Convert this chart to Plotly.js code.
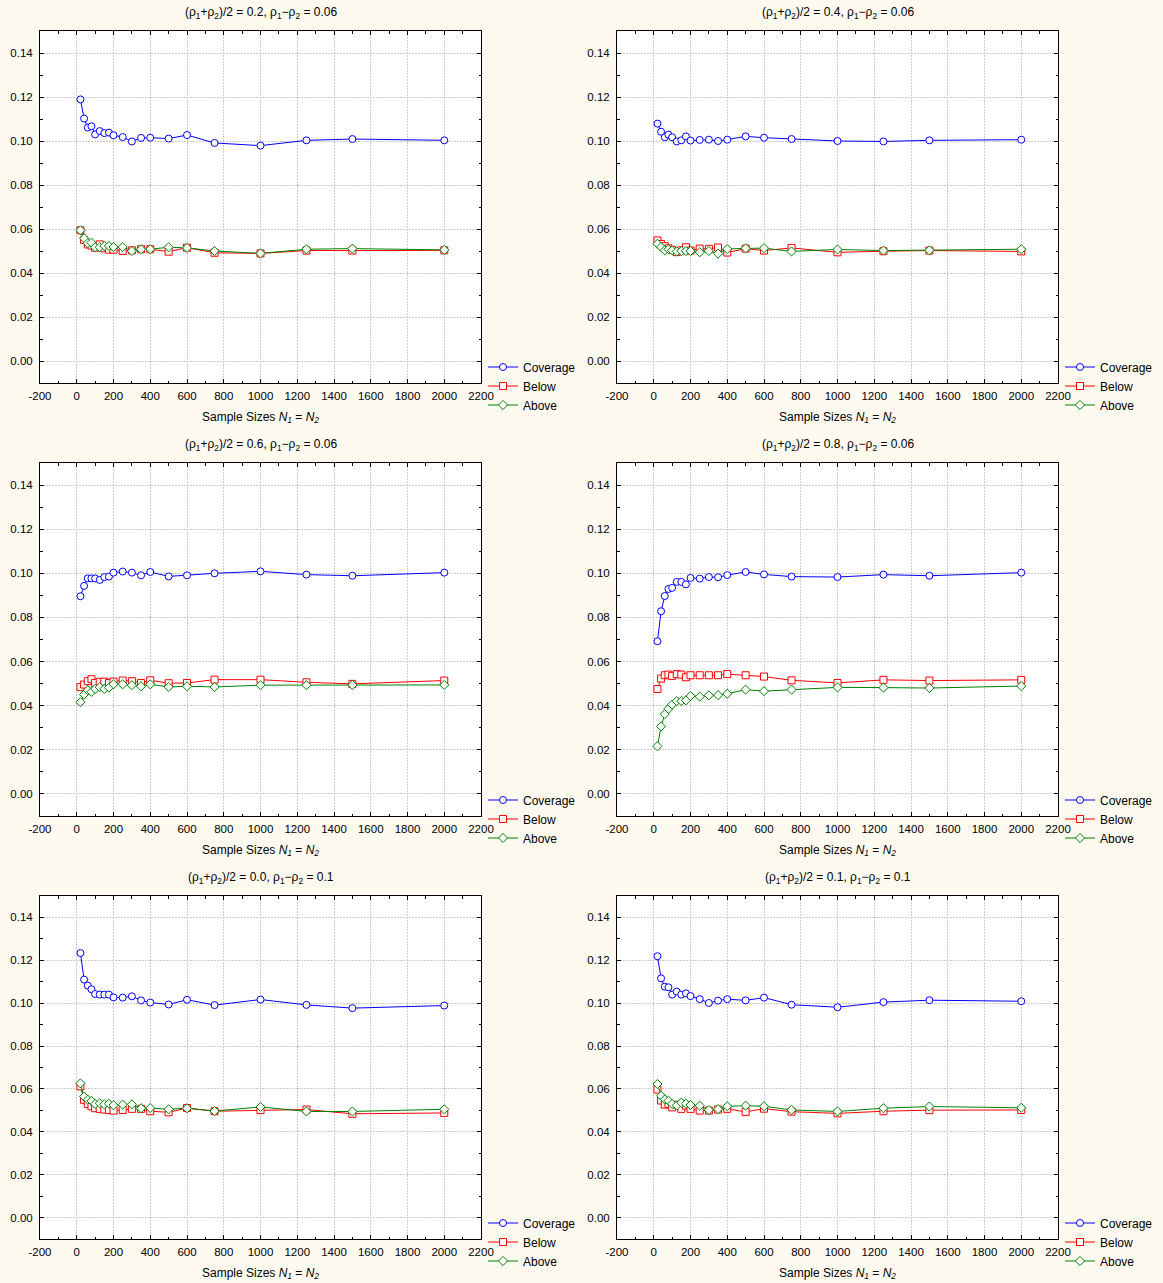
<!DOCTYPE html>
<html><head><meta charset="utf-8">
<script src="https://cdn.plot.ly/plotly-3.0.1.min.js"></script>
<style>html,body{margin:0;padding:0;background:#FEFAF0;} #chart{width:1163px;height:1283px;}</style>
</head><body><div id="chart"></div>
<script>
// ---------- data ----------
const sampleSizes = [20, 40, 60, 80, 100, 125, 150, 175, 200, 250, 300, 350, 400, 500, 600, 750, 1000, 1250, 1500, 2000];
const seriesNames = ['Coverage', 'Below', 'Above'];
const meanRho = ['0.2', '0.4', '0.6', '0.8', '0.0', '0.1'];
const diffRho = ['0.06', '0.06', '0.06', '0.06', '0.1', '0.1'];
const xTickVals = [-200, 0, 200, 400, 600, 800, 1000, 1200, 1400, 1600, 1800, 2000, 2200];
const xTickText = ['-200', '0', '200', '400', '600', '800', '1000', '1200', '1400', '1600', '1800', '2000', '2200'];
const yTickVals = [0, 0.02, 0.04, 0.06, 0.08, 0.10, 0.12, 0.14];
const yTickText = ['0.00', '0.02', '0.04', '0.06', '0.08', '0.10', '0.12', '0.14'];

// panel 1: mean 0.2, diff 0.06
const coverage1 = [0.1189, 0.1102, 0.1061, 0.1067, 0.1030, 0.1045, 0.1036, 0.1038, 0.1026, 0.1018, 0.0998, 0.1014, 0.1015, 0.1011, 0.1027, 0.0991, 0.0979, 0.1003, 0.1009, 0.1003];
const below1 = [0.0594, 0.0550, 0.0530, 0.0525, 0.0515, 0.0530, 0.0512, 0.0506, 0.0506, 0.0500, 0.0503, 0.0508, 0.0508, 0.0497, 0.0515, 0.0492, 0.0489, 0.0502, 0.0502, 0.0503];
const above1 = [0.0594, 0.0558, 0.0536, 0.0538, 0.0517, 0.0517, 0.0523, 0.0523, 0.0518, 0.0518, 0.0500, 0.0508, 0.0508, 0.0517, 0.0514, 0.0500, 0.0489, 0.0508, 0.0511, 0.0505];

// panel 2: mean 0.4, diff 0.06
const coverage2 = [0.1079, 0.1042, 0.1017, 0.1029, 0.1017, 0.0998, 0.1003, 0.1021, 0.1002, 0.1005, 0.1006, 0.1000, 0.1006, 0.1021, 0.1015, 0.1009, 0.1000, 0.0998, 0.1003, 0.1006];
const below2 = [0.0548, 0.0532, 0.0522, 0.0512, 0.0505, 0.0495, 0.0503, 0.0517, 0.0502, 0.0511, 0.0510, 0.0516, 0.0493, 0.0511, 0.0502, 0.0514, 0.0494, 0.0499, 0.0502, 0.0498];
const above2 = [0.0533, 0.0518, 0.0503, 0.0508, 0.0503, 0.0498, 0.0500, 0.0500, 0.0500, 0.0494, 0.0500, 0.0488, 0.0509, 0.0512, 0.0513, 0.0498, 0.0507, 0.0502, 0.0503, 0.0508];

// panel 3: mean 0.6, diff 0.06
const coverage3 = [0.0896, 0.0943, 0.0977, 0.0977, 0.0977, 0.0970, 0.0983, 0.0985, 0.1003, 0.1008, 0.1003, 0.0991, 0.1006, 0.0986, 0.0991, 0.1000, 0.1009, 0.0994, 0.0989, 0.1003];
const below3 = [0.0484, 0.0496, 0.0511, 0.0520, 0.0503, 0.0508, 0.0509, 0.0503, 0.0509, 0.0514, 0.0511, 0.0503, 0.0515, 0.0502, 0.0503, 0.0518, 0.0518, 0.0506, 0.0499, 0.0514];
const above3 = [0.0416, 0.0451, 0.0470, 0.0463, 0.0476, 0.0484, 0.0476, 0.0482, 0.0497, 0.0497, 0.0493, 0.0488, 0.0497, 0.0485, 0.0488, 0.0485, 0.0493, 0.0493, 0.0494, 0.0494];

// panel 4: mean 0.8, diff 0.06
const coverage4 = [0.0692, 0.0828, 0.0897, 0.0929, 0.0934, 0.0961, 0.0961, 0.0950, 0.0979, 0.0976, 0.0983, 0.0982, 0.0992, 0.1006, 0.0995, 0.0985, 0.0983, 0.0994, 0.0989, 0.1003];
const below4 = [0.0476, 0.0523, 0.0538, 0.0541, 0.0535, 0.0543, 0.0541, 0.0529, 0.0538, 0.0538, 0.0538, 0.0538, 0.0543, 0.0538, 0.0532, 0.0515, 0.0503, 0.0517, 0.0514, 0.0517];
const above4 = [0.0216, 0.0306, 0.0362, 0.0386, 0.0405, 0.0421, 0.0421, 0.0424, 0.0444, 0.0441, 0.0447, 0.0448, 0.0454, 0.0473, 0.0466, 0.0473, 0.0483, 0.0482, 0.0480, 0.0489];

// panel 5: mean 0.0, diff 0.1
const coverage5 = [0.1234, 0.1110, 0.1082, 0.1065, 0.1043, 0.1040, 0.1040, 0.1040, 0.1027, 0.1026, 0.1032, 0.1013, 0.1003, 0.0994, 0.1016, 0.0991, 0.1017, 0.0992, 0.0977, 0.0989];
const below5 = [0.0612, 0.0549, 0.0530, 0.0519, 0.0510, 0.0507, 0.0504, 0.0502, 0.0499, 0.0502, 0.0507, 0.0507, 0.0496, 0.0491, 0.0511, 0.0496, 0.0501, 0.0504, 0.0484, 0.0488];
const above5 = [0.0626, 0.0564, 0.0550, 0.0544, 0.0530, 0.0533, 0.0528, 0.0531, 0.0524, 0.0527, 0.0528, 0.0510, 0.0511, 0.0505, 0.0510, 0.0497, 0.0516, 0.0495, 0.0495, 0.0505];

// panel 6: mean 0.1, diff 0.1
const coverage6 = [0.1219, 0.1116, 0.1077, 0.1074, 0.1040, 0.1054, 0.1040, 0.1046, 0.1033, 0.1019, 0.1001, 0.1012, 0.1019, 0.1013, 0.1026, 0.0993, 0.0981, 0.1005, 0.1014, 0.1009];
const below6 = [0.0597, 0.0546, 0.0527, 0.0530, 0.0514, 0.0526, 0.0507, 0.0522, 0.0507, 0.0499, 0.0499, 0.0504, 0.0507, 0.0493, 0.0508, 0.0494, 0.0486, 0.0496, 0.0501, 0.0502];
const above6 = [0.0623, 0.0568, 0.0551, 0.0545, 0.0530, 0.0523, 0.0536, 0.0531, 0.0525, 0.0522, 0.0502, 0.0506, 0.0519, 0.0522, 0.0519, 0.0502, 0.0495, 0.0510, 0.0518, 0.0512];

const panels = [
  [coverage1, below1, above1], [coverage2, below2, above2],
  [coverage3, below3, above3], [coverage4, below4, above4],
  [coverage5, below5, above5], [coverage6, below6, above6]
];

// ---------- layout ----------
const W = 1163, H = 1283;
const cols = [[40, 481], [617, 1058]];
const rows = [[31, 383], [463, 816], [896, 1239]];
const FONT = 'Arial, "Liberation Sans", sans-serif';
const colors = ['#0000FF', '#FF0000', '#008000'];
const symbols = ['circle', 'square', 'diamond'];
const msizes = [7, 7, 7];

const traces = [];
const layout = {
  width: W, height: H,
  margin: {l: 0, r: 0, t: 0, b: 0},
  paper_bgcolor: '#FEFAF0',
  plot_bgcolor: '#FFFFFF',
  font: {family: FONT, size: 12, color: '#000'},
  annotations: [],
  showlegend: true
};

panels.forEach((series, i) => {
  const c = i % 2, r = Math.floor(i / 2);
  const [x0, x1] = cols[c];
  const [y0, y1] = rows[r];
  const n = i + 1;
  const sfx = n === 1 ? '' : String(n);
  const legName = 'legend' + sfx;

  series.forEach((vals, k) => {
    traces.push({
      type: 'scatter', mode: 'lines+markers',
      x: sampleSizes, y: vals, name: seriesNames[k],
      xaxis: 'x' + sfx, yaxis: 'y' + sfx,
      legend: legName,
      line: {color: colors[k], width: 1},
      marker: {symbol: symbols[k], size: msizes[k], color: '#FFFFFF', line: {color: colors[k], width: 1}}
    });
  });

  const common = {
    showline: true, linecolor: '#000', linewidth: 1, mirror: 'allticks',
    ticks: 'inside', ticklen: 4, tickcolor: '#000', tickwidth: 1,
    showgrid: true, gridcolor: '#CBCBCB', griddash: '2px,1px', gridwidth: 1,
    zeroline: false, tickfont: {family: FONT, size: 11.5, color: '#000'},
    fixedrange: true
  };
  layout['xaxis' + sfx] = Object.assign({}, common, {
    domain: [x0 / W, x1 / W], anchor: 'y' + sfx,
    range: [-200, 2200], tickmode: 'array', tickvals: xTickVals, ticktext: xTickText,
    ticklabelstandoff: 2,
    minor: {tickmode: 'linear', tick0: -200, dtick: 100, ticks: 'inside', ticklen: 2.5, tickcolor: '#000', showgrid: false},
    title: {text: 'Sample Sizes <i>N</i><sub><i>1</i></sub> = <i>N</i><sub><i>2</i></sub>', font: {family: FONT, size: 12, color: '#000'}, standoff: 11}
  });
  layout['yaxis' + sfx] = Object.assign({}, common, {
    domain: [1 - y1 / H, 1 - y0 / H], anchor: 'x' + sfx,
    range: [-0.01, 0.15], tickmode: 'array', tickvals: yTickVals, ticktext: yTickText,
    ticklabelstandoff: 4,
    minor: {tickmode: 'linear', tick0: 0, dtick: 0.01, ticks: 'inside', ticklen: 2.5, tickcolor: '#000', showgrid: false}
  });
  layout[legName] = {
    x: (x1 + 2) / W, xanchor: 'left', y: 1 - (y1 + 3) / H, yanchor: 'middle',
    bgcolor: 'rgba(0,0,0,0)', borderwidth: 0,
    font: {family: FONT, size: 12, color: '#000'}, tracegroupgap: 0
  };
  layout.annotations.push({
    xref: 'paper', yref: 'paper', x: (x0 + x1) / 2 / W, y: 1 - (y0 - 18) / H,
    xanchor: 'center', yanchor: 'middle', showarrow: false,
    text: '(ρ<sub>1</sub>+ρ<sub>2</sub>)/2 = ' + meanRho[i] + ', ρ<sub>1</sub>−ρ<sub>2</sub> = ' + diffRho[i],
    font: {family: FONT, size: 12, color: '#000'}
  });
});

Plotly.newPlot('chart', traces, layout, {displayModeBar: false, staticPlot: true});
</script></body></html>
